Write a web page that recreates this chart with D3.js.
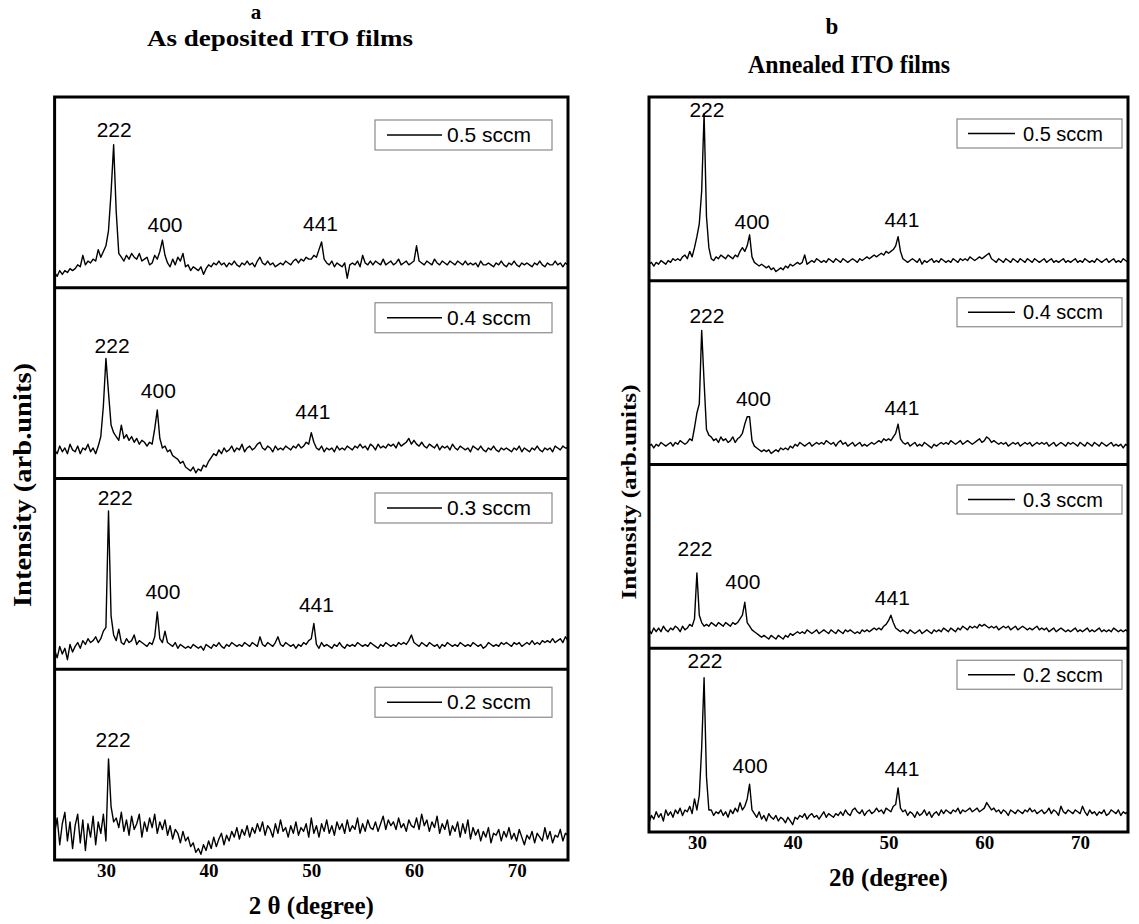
<!DOCTYPE html>
<html lang="en">
<head>
<meta charset="utf-8">
<style>
  body { margin: 0; background: #fff; }
  .serif { font-family: "Liberation Serif", "Times New Roman", serif; font-weight: bold; }
  .sans { font-family: "Liberation Sans", Arial, sans-serif; }
</style>
</head>
<body>
<script src="https://d3js.org/d3.v7.min.js"></script>
<script>
// scans run from 25 to 75 deg in 0.25 deg steps
var thetaStart = 25, thetaStep = 0.25;

var sampleNames = ["0.5 sccm", "0.4 sccm", "0.3 sccm", "0.2 sccm"];
var xTicks = [30, 40, 50, 60, 70];

// intensities (0 = strip bottom, 100 = strip top)
var dep05 = [
  8,6,9,7, 9,8,10,9, 10,12,11,17, 12,14,13,15, 14,20,16,19,
  22,30,50,75, 40,18,16,14, 17,15,18,16, 15,18,14,15, 16,12,13,17,
  15,19,25,17, 13,11,15,12, 16,14,18,11, 12,9,11,10, 9,11,7,10,
  12,11,13,12, 14,12,13,11, 13,12,14,12, 11,13,12,14, 12,13,11,14,
  16,13,12,14, 12,13,11,12, 13,12,14,13, 12,14,15,13, 15,14,16,15,
  15,17,16,20, 24,15,13,12, 14,11,13,12, 11,13,5,12, 13,12,14,11,
  17,13,12,14, 12,14,13,12, 15,12,13,14, 12,13,15,12, 13,14,12,13,
  14,22,14,13, 12,14,13,12, 15,13,12,14, 13,12,14,13, 12,14,13,12,
  14,12,13,12, 13,11,14,12, 12,13,12,11, 13,12,14,12, 11,13,12,14,
  12,11,13,12, 13,12,11,13, 12,14,12,11, 13,12,12,14, 12,13,11,13,
  12];
var dep04 = [
  15,13,17,14, 16,13,18,15, 14,17,13,16, 15,18,14,16, 13,17,22,38,
  63,45,28,24, 22,20,28,21, 23,20,22,19, 21,18,20,19, 17,19,18,26,
  36,21,16,17, 14,15,12,11, 10,8,9,6, 5,4,6,3, 5,4,7,6,
  9,11,13,12, 15,13,16,14, 15,17,14,16, 15,18,14,16, 17,15,16,18,
  19,16,15,17, 16,14,17,15, 16,15,17,16, 15,17,16,18, 16,17,19,18,
  24,19,16,15, 17,14,16,15, 16,14,17,15, 16,15,17,16, 15,17,16,18,
  16,17,15,18, 17,15,18,16, 17,16,18,17, 18,16,19,17, 18,19,21,18,
  20,18,17,19, 17,16,18,17, 16,18,15,17, 16,17,15,18, 16,15,17,16,
  15,16,14,17, 16,15,17,15, 14,16,15,17, 15,14,16,15, 16,15,14,16,
  15,17,14,16, 15,14,16,15, 17,15,14,16, 15,16,14,17, 16,15,17,16,
  16];
var dep03 = [
  10,6,12,8, 11,5,13,9, 12,14,11,15, 13,16,14,15, 17,14,16,20,
  22,83,28,18, 15,21,14,13, 16,14,15,18, 13,15,14,13, 12,14,13,17,
  30,16,14,20, 14,13,12,14, 11,13,12,11, 12,11,13,12, 11,12,10,13,
  12,11,13,12, 14,12,11,13, 12,14,13,12, 13,12,14,13, 12,14,13,12,
  17,13,12,14, 13,12,14,17, 13,12,14,13, 12,13,11,13, 12,14,13,15,
  16,24,13,11, 14,12,13,12, 11,13,12,14, 12,11,13,12, 13,12,14,13,
  12,13,12,14, 13,12,11,13, 12,14,13,12, 13,12,14,13, 14,13,15,18,
  14,13,12,14, 13,12,14,13, 12,13,11,13, 12,14,13,12, 13,12,14,13,
  12,13,12,14, 13,12,13,11, 12,14,13,12, 13,12,14,13, 14,13,12,14,
  13,14,12,13, 14,13,15,13, 14,13,15,14, 15,14,16,14, 15,16,14,17,
  15];
var dep02 = [
  14,22,8,19, 25,10,20,6, 18,24,9,21, 5,19,12,23, 8,20,14,24,
  10,53,28,20, 22,17,25,15, 21,13,23,16, 19,24,12,20, 15,22,17,24,
  14,20,16,21, 13,18,11,16, 14,9,15,10, 12,7,9,4, 6,3,8,5,
  10,6,12,7, 11,14,8,13, 10,15,12,17, 11,16,13,18, 12,17,14,19,
  15,20,13,18, 16,12,19,14, 21,15,17,12, 18,14,20,13, 17,15,19,12,
  22,14,18,12, 19,15,21,14, 18,13,20,16, 19,14,21,15, 18,16,22,14,
  19,15,21,17, 16,20,15,19, 23,16,21,18, 20,16,22,17, 19,15,21,18,
  17,22,16,24, 18,21,15,20, 17,23,14,19, 16,21,13,18, 15,20,12,19,
  14,21,11,17, 13,16,10,15, 12,17,9,14, 13,16,10,15, 12,17,11,14,
  10,16,12,8, 13,11,15,9, 14,12,10,17, 11,15,9,13, 12,16,10,14,
  13];

var ann05 = [
  9,10,8,10, 9,11,10,9, 11,10,12,11, 12,11,13,14, 12,16,13,18,
  24,31,49,91, 35,18,12,11, 13,12,14,13, 12,14,13,12, 14,13,16,18,
  16,19,25,13, 10,9,8,9, 8,7,8,6, 7,5,6,7, 6,8,7,9,
  8,9,10,9, 10,14,9,10, 11,10,12,11, 10,11,10,12, 11,10,12,11,
  10,12,11,10, 11,12,11,10, 12,11,12,13, 12,13,14,13, 14,15,14,16,
  15,16,17,19, 24,16,12,11, 10,11,12,11, 10,12,9,11, 10,11,12,10,
  11,10,12,11, 10,11,10,12, 11,10,12,11, 12,11,13,12, 11,12,13,12,
  13,14,15,12, 11,10,12,11, 10,12,11,10, 12,11,10,12, 11,10,12,11,
  10,12,11,10, 11,12,10,11, 12,10,11,10, 11,12,10,11, 10,11,12,10,
  11,10,12,11, 10,11,10,12, 11,10,11,12, 10,11,12,10, 11,10,12,11,
  10];
var ann04 = [
  10,11,9,11, 10,12,11,10, 11,12,10,12, 11,13,12,11, 12,14,13,20,
  28,33,73,45, 19,16,15,13, 14,12,15,13, 14,12,13,15, 12,14,15,17,
  22,26,26,13, 10,9,8,7, 8,7,8,6, 7,8,7,9, 8,9,8,10,
  9,11,10,12, 11,10,11,12, 10,11,12,11, 12,11,13,12, 11,12,10,12,
  13,11,12,10, 11,12,10,11, 12,10,11,10, 11,12,11,12, 13,12,14,13,
  14,13,15,17, 22,14,12,11, 12,10,11,12, 10,11,10,12, 11,10,9,11,
  10,11,12,11, 12,11,13,12, 11,12,13,11, 12,13,12,11, 12,13,14,12,
  13,15,14,12, 13,12,11,12, 11,12,10,11, 12,11,12,10, 11,12,11,12,
  10,11,12,11, 12,11,12,10, 11,12,10,11, 12,11,10,12, 11,12,11,10,
  12,11,10,12, 11,10,12,11, 10,12,11,10, 11,12,10,11, 10,11,9,11,
  10];
var ann03 = [
  10,8,11,9, 11,9,12,10, 9,11,10,12, 11,9,12,10, 11,13,12,16,
  41,18,14,12, 13,12,14,13, 12,14,13,12, 14,13,12,14, 13,14,16,18,
  25,14,12,10, 9,8,7,6, 7,6,5,7, 6,5,7,6, 5,7,6,8,
  7,8,9,8, 9,8,10,9, 8,9,10,8, 9,10,9,8, 10,9,8,10,
  9,8,10,9, 10,9,8,9, 8,10,9,10, 9,10,11,10, 11,10,12,13,
  15,18,14,11, 10,9,10,9, 8,10,9,8, 9,10,8,9, 10,9,8,10,
  9,10,9,11, 10,9,11,10, 9,11,10,12, 11,10,12,11, 12,11,13,12,
  13,12,11,12, 11,12,10,11, 12,11,12,10, 11,12,10,11, 12,11,10,11,
  10,11,12,10, 11,10,11,9, 10,11,9,10, 11,10,9,10, 9,10,11,9,
  10,9,10,11, 9,10,9,10, 11,9,10,9, 10,9,11,10, 9,10,9,10,
  9];
var ann02 = [
  5,9,7,11, 8,10,6,12, 9,11,8,12, 10,13,9,12, 11,14,10,18,
  12,20,46,84, 30,12,12,9, 11,10,12,9, 11,8,12,10, 13,11,16,12,
  14,18,26,12, 10,8,11,7, 9,6,10,8, 7,9,6,8, 7,5,8,6,
  4,8,7,9, 8,10,7,9, 10,8,9,7, 9,11,8,10, 9,8,10,9,
  11,9,12,10, 9,12,13,11, 10,12,9,11, 12,10,11,13, 11,12,10,13,
  12,11,14,15, 24,13,11,12, 9,11,10,8, 11,9,10,12, 9,11,8,10,
  11,9,12,10, 12,11,10,12, 11,13,10,12, 11,12,13,11, 12,13,11,12,
  13,16,14,12, 13,11,12,10, 12,11,9,12, 11,10,12,11, 10,12,11,13,
  11,12,10,11, 12,10,11,13, 10,12,11,9, 14,11,10,12, 11,10,12,11,
  10,14,11,9, 12,10,11,9, 11,10,12,9, 10,12,11,10, 12,9,11,10,
  11];

// reflection labels: [hkl, 2theta, intensity of the label baseline]
var dep05Peaks = [["222", 30.8, 79], ["400", 35.75, 29], ["441", 50.9, 30]];
var dep04Peaks = [["222", 30.6, 66], ["400", 35.1, 42], ["441", 50.15, 31]];
var dep03Peaks = [["222", 30.9, 86], ["400", 35.55, 37], ["441", 50.5, 30]];
var dep02Peaks = [["222", 30.7, 59]];
var ann05Peaks = [["222", 31.05, 89], ["400", 35.75, 28], ["441", 51.4, 29]];
var ann04Peaks = [["222", 31.05, 77], ["400", 35.9, 32], ["441", 51.4, 27]];
var ann03Peaks = [["222", 29.8, 50], ["400", 34.8, 32], ["441", 50.4, 23.5]];
var ann02Peaks = [["222", 30.85, 89], ["400", 35.55, 32], ["441", 51.4, 30.5]];

var width = 1139, height = 924;

var panels = [
  {
    letter: "a", letterX: 256, letterY: 19, letterSize: 21,
    title: "As deposited ITO films", titleX: 280, titleY: 46, titleLen: 266, titleSize: 24,
    left: 54.6, right: 568, top: 97, bottom: 860,
    series: [dep05, dep04, dep03, dep02],
    peaks: [dep05Peaks, dep04Peaks, dep03Peaks, dep02Peaks],
    legendW: 177, legendH: 30, legendGap: 16, legendTops: [23, 15, 14.5, 18],
    legendFont: 21, legendLine: [12, 67], legendText: 72,
    xTitle: "2 \u03b8 (degree)", xTitleY: 914,
    yTitleX: 22, yTitleY: 485, yTitleSize: 25, yTitleLen: 244
  },
  {
    letter: "b", letterX: 832, letterY: 34, letterSize: 23,
    title: "Annealed ITO films", titleX: 849, titleY: 73, titleLen: 202, titleSize: 25,
    left: 649, right: 1128, top: 97, bottom: 832,
    series: [ann05, ann04, ann03, ann02],
    peaks: [ann05Peaks, ann04Peaks, ann03Peaks, ann02Peaks],
    legendW: 165, legendH: 29, legendGap: 6, legendTops: [22, 17, 20.5, 12],
    legendFont: 20, legendLine: [11, 58], legendText: 66,
    xTitle: "2\u03b8 (degree)", xTitleY: 886,
    yTitleX: 628, yTitleY: 492, yTitleSize: 22, yTitleLen: 215
  }
];

var svg = d3.select("body").append("svg")
    .attr("width", width)
    .attr("height", height);

panels.forEach(function (p) {
  var g = svg.append("g");
  var x = d3.scaleLinear().domain([25, 75]).range([p.left, p.right]);
  var stripH = (p.bottom - p.top) / p.series.length;

  p.series.forEach(function (values, k) {
    var sTop = p.top + k * stripH, sBot = sTop + stripH;
    var y = d3.scaleLinear().domain([0, 100]).range([sBot, sTop]);

    var line = d3.line()
        .x(function (d, i) { return x(thetaStart + i * thetaStep); })
        .y(function (d) { return y(d); });

    g.append("path")
        .datum(values)
        .attr("d", line)
        .attr("fill", "none")
        .attr("stroke", "#000")
        .attr("stroke-width", 1.4)
        .attr("stroke-linejoin", "round");

    g.selectAll(null)
        .data(p.peaks[k])
        .enter()
        .append("text")
        .attr("class", "sans")
        .attr("x", function (d) { return x(d[1]); })
        .attr("y", function (d) { return y(d[2]); })
        .attr("text-anchor", "middle")
        .attr("font-size", 21)
        .text(function (d) { return d[0]; });

    // legend box
    var lx = p.right - p.legendGap - p.legendW, ly = sTop + p.legendTops[k];
    g.append("rect")
        .attr("x", lx).attr("y", ly)
        .attr("width", p.legendW).attr("height", p.legendH)
        .attr("fill", "#fff")
        .attr("stroke", "#8a8a8a")
        .attr("stroke-width", 1.2);
    g.append("line")
        .attr("x1", lx + p.legendLine[0]).attr("x2", lx + p.legendLine[1])
        .attr("y1", ly + p.legendH / 2).attr("y2", ly + p.legendH / 2)
        .attr("stroke", "#000")
        .attr("stroke-width", 1.5);
    g.append("text")
        .attr("class", "sans")
        .attr("x", lx + p.legendText)
        .attr("y", ly + p.legendH / 2 + 7)
        .attr("font-size", p.legendFont)
        .text(sampleNames[k]);

    if (k > 0) {
      g.append("line")
          .attr("x1", p.left).attr("x2", p.right)
          .attr("y1", sTop).attr("y2", sTop)
          .attr("stroke", "#000")
          .attr("stroke-width", 3);
    }
  });

  g.append("rect")
      .attr("x", p.left).attr("y", p.top)
      .attr("width", p.right - p.left).attr("height", p.bottom - p.top)
      .attr("fill", "none")
      .attr("stroke", "#000")
      .attr("stroke-width", 3);

  var axis = g.append("g")
      .attr("transform", "translate(0," + p.bottom + ")")
      .call(d3.axisBottom(x).tickValues(xTicks).tickSize(0).tickPadding(4));
  axis.select(".domain").remove();
  axis.selectAll("text")
      .attr("class", "serif")
      .attr("font-size", 19)
      .attr("fill", "#000");

  g.append("text")
      .attr("class", "serif")
      .attr("x", (p.left + p.right) / 2)
      .attr("y", p.xTitleY)
      .attr("text-anchor", "middle")
      .attr("font-size", 25)
      .text(p.xTitle);

  g.append("text")
      .attr("class", "serif")
      .attr("transform", "translate(" + p.yTitleX + "," + p.yTitleY + ") rotate(-90)")
      .attr("dy", "0.35em")
      .attr("text-anchor", "middle")
      .attr("font-size", p.yTitleSize)
      .attr("textLength", p.yTitleLen)
      .attr("lengthAdjust", "spacingAndGlyphs")
      .text("Intensity (arb.units)");

  g.append("text")
      .attr("class", "serif")
      .attr("x", p.letterX).attr("y", p.letterY)
      .attr("text-anchor", "middle")
      .attr("font-size", p.letterSize)
      .text(p.letter);

  g.append("text")
      .attr("class", "serif")
      .attr("x", p.titleX).attr("y", p.titleY)
      .attr("text-anchor", "middle")
      .attr("font-size", p.titleSize)
      .attr("textLength", p.titleLen)
      .attr("lengthAdjust", "spacingAndGlyphs")
      .text(p.title);
});
</script>
</body>
</html>
